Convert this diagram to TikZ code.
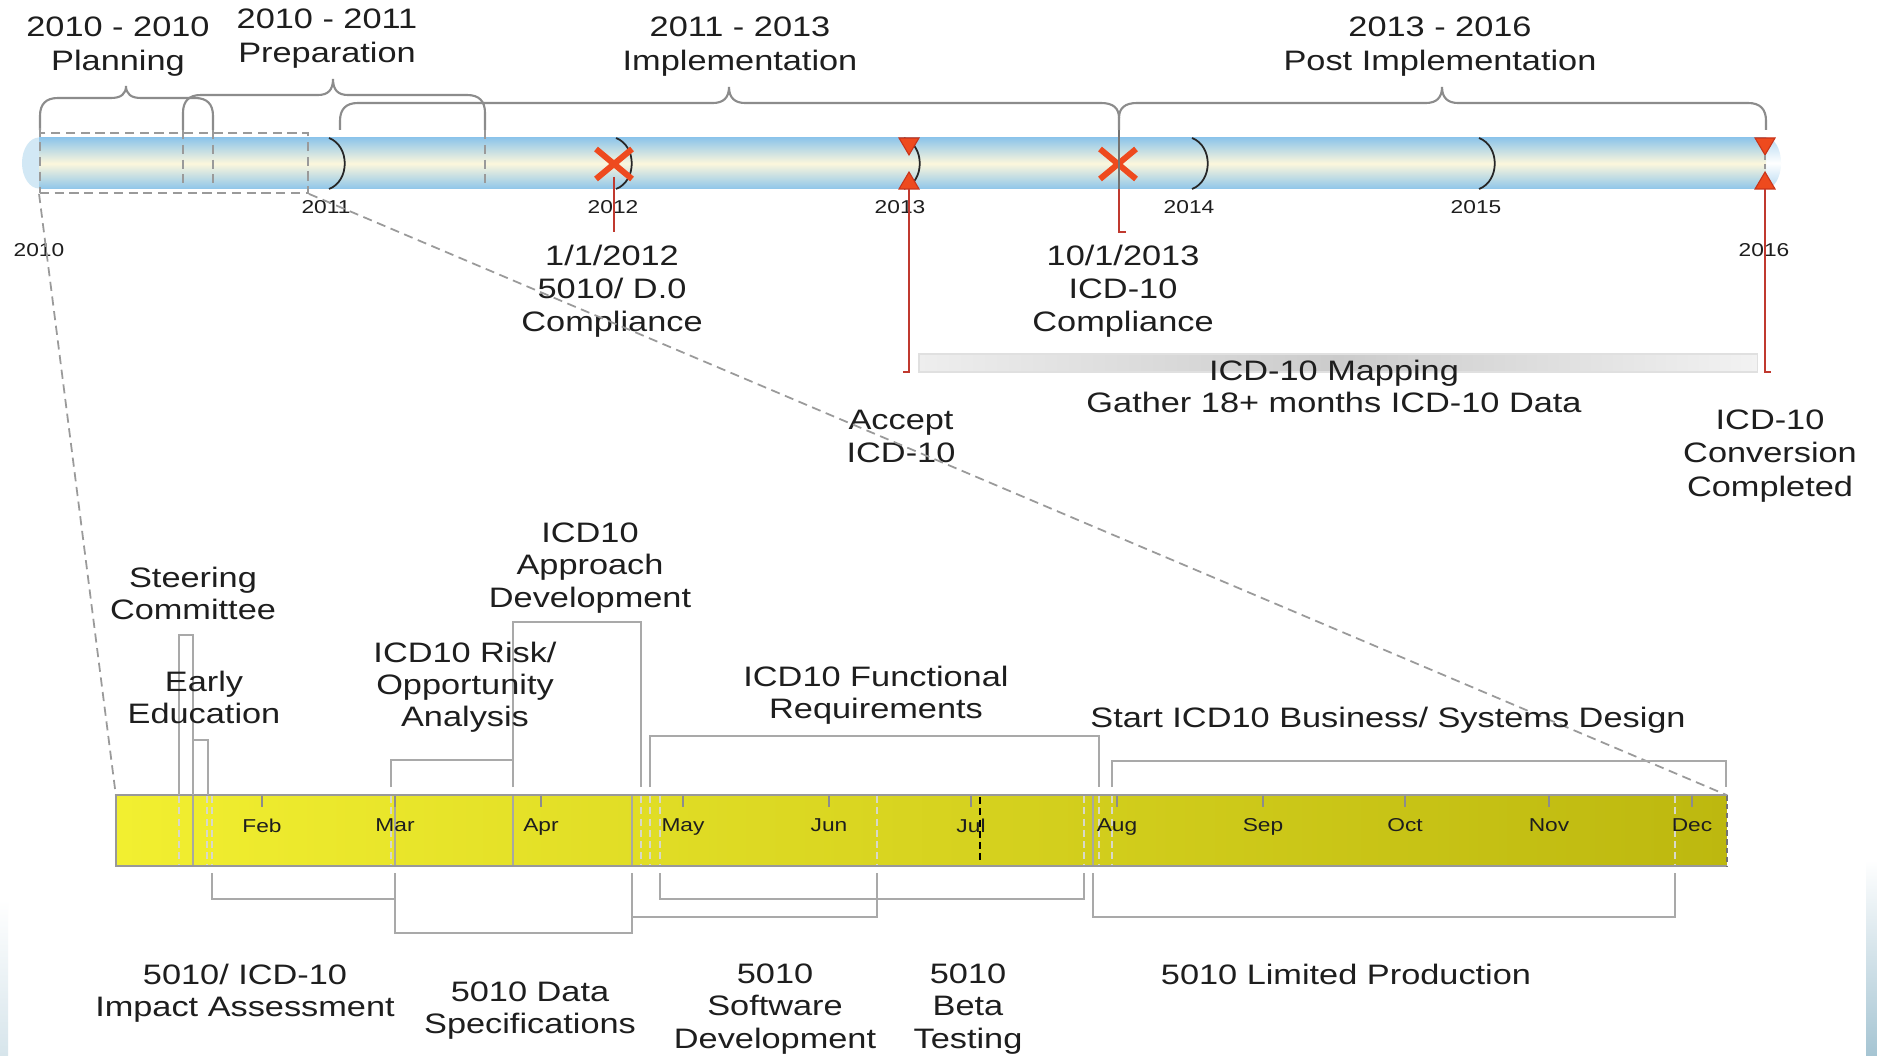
\documentclass[tikz,border=0pt]{standalone}
\usepackage{fontspec}
\setmainfont{Liberation Sans}[FakeStretch=1.22]
\usetikzlibrary{shapes.misc}
\definecolor{txt}{HTML}{1E1E1E}
\definecolor{braceGray}{HTML}{8C8C8C}
\definecolor{brkGray}{HTML}{A9A9A9}
\definecolor{dashGray}{HTML}{9A9A9A}
\definecolor{barBlue}{HTML}{8EC5EA}
\definecolor{barCream}{HTML}{FCF7DC}
\definecolor{capBlue}{HTML}{D2E8F5}
\definecolor{xRed}{HTML}{EE4A1E}
\definecolor{triEdge}{HTML}{C8341A}
\definecolor{redLine}{HTML}{C0392F}
\definecolor{yelL}{HTML}{F2EF30}
\definecolor{yelR}{HTML}{BDB80F}
\definecolor{mapL}{HTML}{EEEEEE}
\definecolor{mapM}{HTML}{CBCBCB}
\definecolor{mapR}{HTML}{F2F2F2}
\definecolor{edgeBlue}{HTML}{A6C5D3}
\definecolor{inSolid}{HTML}{A8A8A0}
\definecolor{inDash}{HTML}{D8D8C8}
\begin{document}
\begin{tikzpicture}[x=0.01cm,y=-0.01cm,
  lbl/.style={inner sep=0pt, align=center, anchor=north, text=txt, font={\fontsize{8}{9.5}\selectfont}},
  lbltwo/.style={lbl, font={\fontsize{8}{9.2}\selectfont}},
  ttl/.style={lbl, font={\fontsize{8}{9.7}\selectfont}},
  yr/.style={inner sep=0pt, anchor=north, text=txt, font={\fontsize{5.3}{6}\selectfont}},
  brace/.style={draw=braceGray, line width=0.6pt},
  brk/.style={draw=brkGray, line width=0.65pt},
  dsh/.style={draw=dashGray, line width=0.5pt, dash pattern=on 2.6pt off 1.6pt},
  insolid/.style={draw=inSolid, line width=0.45pt},
  indash/.style={draw=inDash, line width=0.45pt, dash pattern=on 2pt off 1.2pt},
  redln/.style={draw=redLine, line width=0.6pt},
  xmark/.style={cross out, draw=xRed, line width=1.7pt, minimum width=0.3cm, minimum height=0.24cm, inner sep=0pt},
  tri/.style={fill=xRed, draw=triEdge, line width=0.3pt},
  yeartick/.style={draw=black!85, line width=0.5pt},
  mtick/.style={draw=black!45, line width=0.4pt}
]
\useasboundingbox (0,0) rectangle (1877,1055);
\fill[white] (0,0) rectangle (1877,1055);

% slide edge decorations
\shade[top color=white, bottom color=edgeBlue] (1866,860) rectangle (1877,1055);
\shade[top color=white, bottom color=edgeBlue!45] (0,900) rectangle (8,1055);

% ---------- top timeline bar ----------
\fill[capBlue] (39,163) ellipse [x radius=0.17cm, y radius=0.255cm];
\shade[top color=barBlue!65, bottom color=barBlue!65, middle color=white] (1766,163) ellipse [x radius=0.15cm, y radius=0.255cm];
\shade[top color=barBlue, bottom color=barBlue, middle color=barCream] (39,138) rectangle (1766,189);

% braces
\draw[brace] (40,130) -- (40,116) .. controls (40,104) and (46,98) .. (58,98) -- (111,98)
  .. controls (121,98) and (126,94) .. (126,86) .. controls (126,94) and (131,98) .. (141,98)
  -- (195,98) .. controls (207,98) and (213,104) .. (213,116) -- (213,130);
\draw[brace] (183,130) -- (183,113) .. controls (183,101) and (189,95) .. (201,95) -- (318,95)
  .. controls (328,95) and (333,90) .. (333,79) .. controls (333,90) and (338,95) .. (348,95)
  -- (467,95) .. controls (479,95) and (485,101) .. (485,113) -- (485,130);
\draw[brace] (340,130) -- (340,121) .. controls (340,109) and (346,103) .. (358,103) -- (713,103)
  .. controls (723,103) and (729,98) .. (729,87) .. controls (729,98) and (735,103) .. (745,103)
  -- (1101,103) .. controls (1113,103) and (1119,108) .. (1119,118) -- (1119,130);
\draw[brace] (1119,118) .. controls (1119,108) and (1125,103) .. (1137,103) -- (1426,103)
  .. controls (1436,103) and (1442,98) .. (1442,87) .. controls (1442,98) and (1448,103) .. (1458,103)
  -- (1748,103) .. controls (1760,103) and (1766,109) .. (1766,121) -- (1766,130);

% dashed guides in top bar
\draw[dsh] (40,128) -- (40,133);
\draw[dsh] (183,130) -- (183,189);
\draw[dsh] (213,130) -- (213,189);
\draw[dsh] (485,130) -- (485,189);
\node[draw=dashGray, line width=0.5pt, dash pattern=on 2.6pt off 1.6pt, minimum width=2.68cm, minimum height=0.6cm, inner sep=0pt] (zoombox) at (174,163) {};

% year ticks
\foreach \x in {329,616,904,1192,1479}
  \draw[yeartick] (\x,138) .. controls (\x+21,146) and (\x+21,181) .. (\x,189);

% year labels
\node[yr] (y2010) at (39,243) {2010};
\node[yr] (y2011) at (326,200) {2011};
\node[yr] (y2012) at (613,200) {2012};
\node[yr] (y2013) at (900,200) {2013};
\node[yr] (y2014) at (1189,200) {2014};
\node[yr] (y2015) at (1476,200) {2015};
\node[yr] (y2016) at (1764,243) {2016};

% phase titles
\node[ttl] (tplan) at (118,16) {2010 - 2010\\Planning};
\node[ttl] (tprep) at (327,8) {2010 - 2011\\Preparation};
\node[ttl] (timpl) at (740,16) {2011 - 2013\\Implementation};
\node[ttl] (tpost) at (1440,16) {2013 - 2016\\Post Implementation};

% milestone markers
\node[xmark] (x2012) at (614,164) {};
\node[xmark] (x2013) at (1118,164) {};
\draw[redln] (614,177) -- (614,232);
\draw[draw=black!55, line width=0.5pt] (1119,130) -- (1119,189);
\draw[redln] (1119,189) -- (1119,232) -- (1126,232);

\draw[tri] (899,138) -- (919,138) -- (909,155) -- cycle;
\draw[tri] (899,189) -- (919,189) -- (909,172) -- cycle;
\draw[tri] (1755,138) -- (1775,138) -- (1765,155) -- cycle;
\draw[tri] (1755,189) -- (1775,189) -- (1765,172) -- cycle;
\draw[draw=black!40, line width=0.4pt, dash pattern=on 1.5pt off 1pt] (1765,155) -- (1765,172);
\draw[redln] (909,189) -- (909,372) -- (903,372);
\draw[redln] (1765,189) -- (1765,372) -- (1771,372);

% mapping bar
\shade[left color=mapL, right color=mapR, middle color=mapM] (919,354) rectangle (1757,372);
\draw[draw=black!12, line width=0.3pt] (919,354) rectangle (1757,372);

% milestone labels
\node[lbl] (m2012) at (612,244) {1/1/2012\\5010/ D.0\\Compliance};
\node[lbl] (m2013) at (1123,244) {10/1/2013\\ICD-10\\Compliance};
\node[lbltwo] (mapping) at (1334,359) {ICD-10 Mapping\\Gather 18+ months ICD-10 Data};
\node[lbl] (accept) at (901,409) {Accept\\ICD-10};
\node[lbl] (convert) at (1770,409) {ICD-10\\Conversion\\Completed};

% ---------- lower month bar ----------
\node[left color=yelL, right color=yelR, minimum width=16.09cm, minimum height=0.69cm, inner sep=0pt] (months) at (921.5,830.5) {};
% lines inside the bar
\foreach \x in {193,395,513,632,1093}
  \draw[insolid] (\x,796) -- (\x,865);
\foreach \x in {179,207,212,391,641,650,660,877,1084,1099,1112,1675}
  \draw[indash] (\x,796) -- (\x,865);
% border
\draw[draw=black!40, line width=0.6pt] (months.north east) -- (months.north west) -- (months.south west) -- (months.south east);
\draw[draw=black!55, line width=0.6pt, dash pattern=on 1.5pt off 1pt] (months.north east) -- (months.south east);
% today marker
\draw[draw=black, line width=0.6pt, dash pattern=on 2pt off 1.2pt] (980,797) -- (980,864);

% month ticks and labels
\foreach \x/\m in {262/Feb,395/Mar,541/Apr,683/May,829/Jun,971/Jul,1117/Aug,1263/Sep,1405/Oct,1549/Nov,1692/Dec}{
  \draw[mtick] (\x,796) -- (\x,807);
  \node[yr] (mon\m) at (\x,818) {\m};
}

% zoom connector lines
\draw[dsh] (zoombox.south west) -- (months.north west);
\draw[dsh] (zoombox.south east) -- (months.north east);

% brackets above the bar
\draw[brk] (179,795) -- (179,635) -- (193,635) -- (193,795);
\draw[brk] (193,740) -- (208,740) -- (208,795);
\draw[brk] (391,787) -- (391,760) -- (513,760) -- (513,787);
\draw[brk] (513,787) -- (513,622) -- (641,622) -- (641,787);
\draw[brk] (650,787) -- (650,736) -- (1099,736) -- (1099,787);
\draw[brk] (1112,787) -- (1112,761) -- (1726,761) -- (1726,787);
% brackets below the bar
\draw[brk] (212,873) -- (212,899) -- (395,899) -- (395,873);
\draw[brk] (395,873) -- (395,933) -- (632,933) -- (632,873);
\draw[brk] (632,873) -- (632,917) -- (877,917) -- (877,873);
\draw[brk] (660,873) -- (660,899) -- (1084,899) -- (1084,873);
\draw[brk] (1093,873) -- (1093,917) -- (1675,917) -- (1675,873);

% activity labels
\node[lbltwo] (steer) at (193,566) {Steering\\Committee};
\node[lbltwo] (early) at (204,670) {Early\\Education};
\node[lbltwo] (risk) at (465,641) {ICD10 Risk/\\Opportunity\\Analysis};
\node[lbltwo] (appr) at (590,522) {ICD10\\Approach\\Development};
\node[lbltwo] (func) at (876,665) {ICD10 Functional\\Requirements};
\node[lbltwo] (bus) at (1388,706) {Start ICD10 Business/ Systems Design};
\node[lbltwo] (impact) at (245,963) {5010/ ICD-10\\Impact Assessment};
\node[lbltwo] (dataspec) at (530,981) {5010 Data\\Specifications};
\node[lbltwo] (soft) at (775,963) {5010\\Software\\Development};
\node[lbltwo] (beta) at (968,963) {5010\\Beta\\Testing};
\node[lbltwo] (limited) at (1346,963) {5010 Limited Production};
\end{tikzpicture}
\end{document}
